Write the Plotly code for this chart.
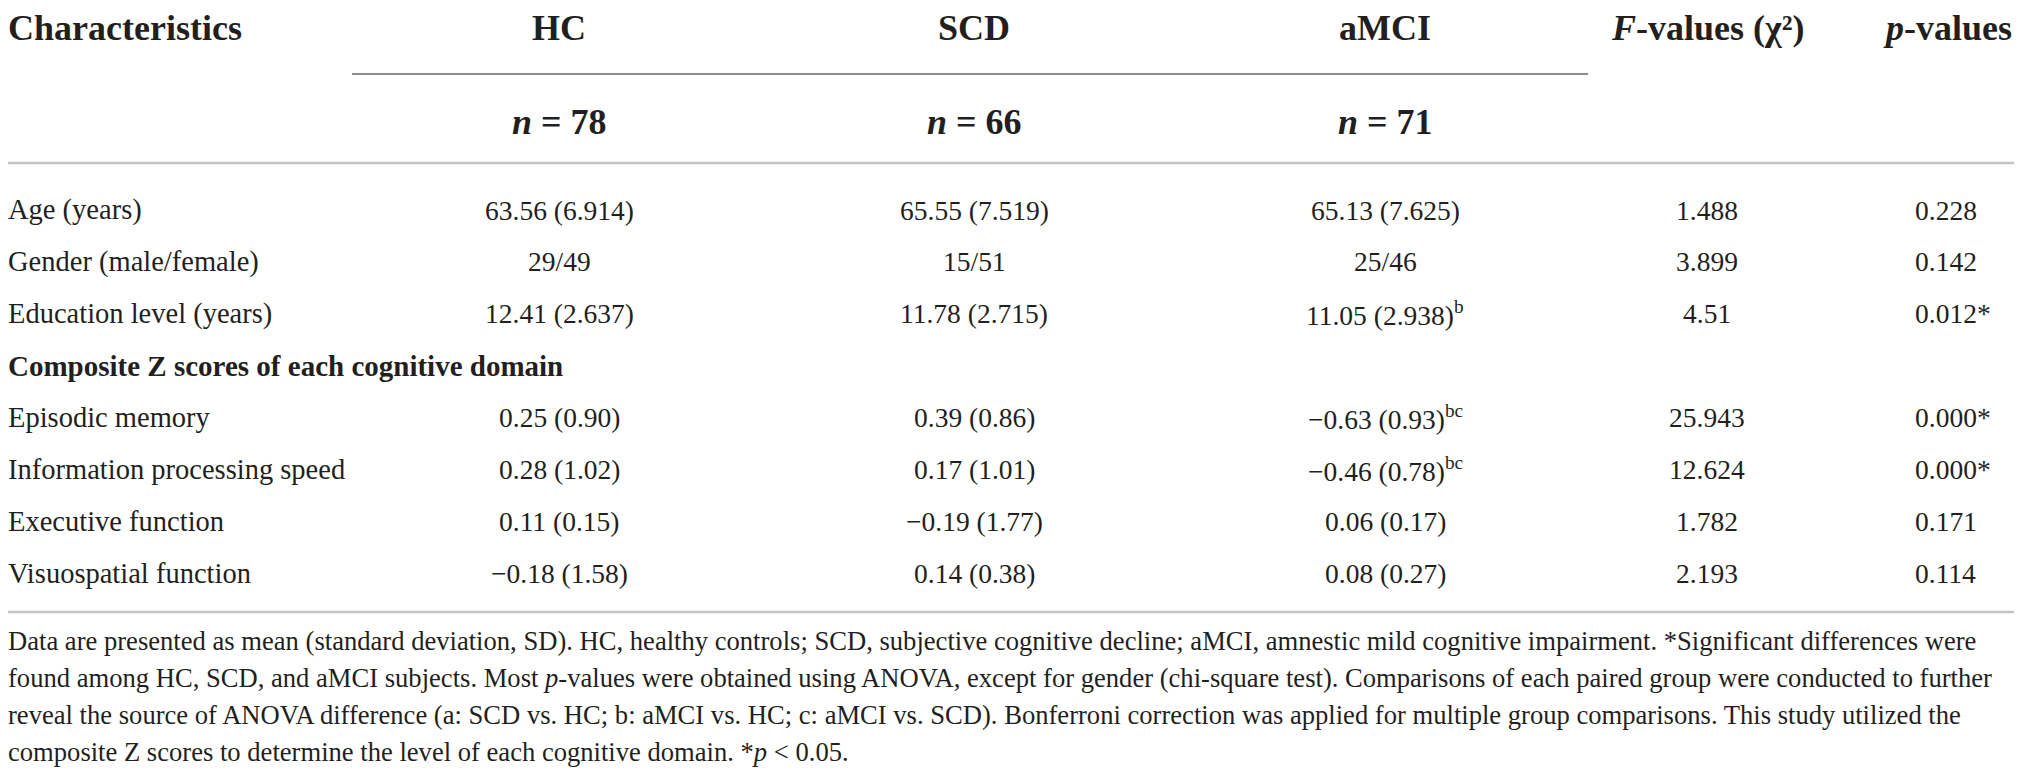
import plotly.graph_objects as go

# table content
row_labels = ["Age (years)", "Gender (male/female)", "Education level (years)",
              "Composite Z scores of each cognitive domain",
              "Episodic memory", "Information processing speed",
              "Executive function", "Visuospatial function"]
section_rows = [3]

group_names = ["HC", "SCD", "aMCI"]
group_n = [78, 66, 71]

hc_vals = ["63.56 (6.914)", "29/49", "12.41 (2.637)", "",
           "0.25 (0.90)", "0.28 (1.02)", "0.11 (0.15)", "\u22120.18 (1.58)"]
scd_vals = ["65.55 (7.519)", "15/51", "11.78 (2.715)", "",
            "0.39 (0.86)", "0.17 (1.01)", "\u22120.19 (1.77)", "0.14 (0.38)"]
amci_vals = ["65.13 (7.625)", "25/46", "11.05 (2.938)", "",
             "\u22120.63 (0.93)", "\u22120.46 (0.78)", "0.06 (0.17)", "0.08 (0.27)"]
amci_marks = ["", "", "b", "", "bc", "bc", "", ""]
f_vals = ["1.488", "3.899", "4.51", "", "25.943", "12.624", "1.782", "2.193"]
p_vals = ["0.228", "0.142", "0.012", "", "0.000", "0.000", "0.171", "0.114"]
p_marks = ["", "", "*", "", "*", "*", "", ""]

footnote_lines = [
    "Data are presented as mean (standard deviation, SD). HC, healthy controls; SCD, subjective "
    "cognitive decline; aMCI, amnestic mild cognitive impairment. *Significant differences were",
    "found among HC, SCD, and aMCI subjects. Most <i>p</i>-values were obtained using ANOVA, except "
    "for gender (chi-square test). Comparisons of each paired group were conducted to further",
    "reveal the source of ANOVA difference (a: SCD vs. HC; b: aMCI vs. HC; c: aMCI vs. SCD). "
    "Bonferroni correction was applied for multiple group comparisons. This study utilized the",
    "composite Z scores to determine the level of each cognitive domain. *<i>p</i> &lt; 0.05.",
]

W, H = 2022, 777
PAD = 8  # default body margin of the html page
FONT = "Liberation Serif"
INK = "#231f20"

group_x = [559, 974, 1385]
f_x, p_x = 1707, 1947
row_y0, row_step = 210, 51.9
foot_y0, foot_step = 641, 37

annotations = []


def add(text, x, y, size, anchor="center", bold=False):
    if bold:
        text = "<b>" + text + "</b>"
    annotations.append(dict(
        x=x, y=y, xref="x", yref="y", text=text, showarrow=False,
        xanchor=anchor, yanchor="middle", align=anchor,
        borderpad=0, borderwidth=0,
        font=dict(family=FONT, size=size, color=INK),
    ))


# header
hy, ny = 28, 122
add("Characteristics", PAD, hy, 36, "left", True)
for gx, name, n in zip(group_x, group_names, group_n):
    add(name, gx, hy, 36, bold=True)
    add("<i>n</i> = %d" % n, gx, ny, 36, bold=True)
add("<i>F</i>-values (\u03c7\u00b2)", f_x, hy, 36, bold=True)
add("<i>p</i>-values", p_x, hy, 36, bold=True)

# body
for i, label in enumerate(row_labels):
    y = row_y0 + i * row_step
    if i in section_rows:
        add(label, PAD, y, 29, "left", True)
        continue
    add(label, PAD, y, 28.5, "left")
    add(hc_vals[i], group_x[0], y, 27.5)
    add(scd_vals[i], group_x[1], y, 27.5)
    sup = "<sup>%s</sup>" % amci_marks[i] if amci_marks[i] else ""
    add(amci_vals[i] + sup, group_x[2], y, 27.5)
    add(f_vals[i], f_x, y, 27.5)
    add(p_vals[i] + p_marks[i], p_x - 32, y, 27.5, "left")

# footnote
for j, line in enumerate(footnote_lines):
    add(line, PAD, foot_y0 + j * foot_step, 26.6, "left")

shapes = [
    dict(type="line", xref="x", yref="y", x0=352, x1=1588, y0=74, y1=74,
         line=dict(color="#8c8c8c", width=2)),
    dict(type="line", xref="x", yref="y", x0=PAD, x1=2016, y0=163, y1=163,
         line=dict(color="#c4c4c4", width=2.5)),
    dict(type="line", xref="x", yref="y", x0=PAD, x1=2016, y0=612, y1=612,
         line=dict(color="#c4c4c4", width=2.5)),
]

fig = go.Figure()
fig.update_layout(
    width=W - PAD, height=H - PAD,
    margin=dict(l=0, r=0, t=0, b=0),
    paper_bgcolor="white", plot_bgcolor="white",
    xaxis=dict(range=[PAD, W], visible=False, fixedrange=True),
    yaxis=dict(range=[H, PAD], visible=False, fixedrange=True),
    annotations=annotations, shapes=shapes,
    showlegend=False,
)
fig.write_html("out.html")
